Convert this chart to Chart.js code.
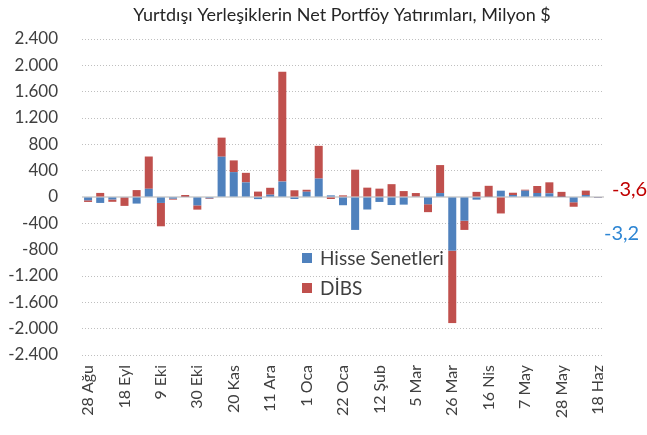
<!DOCTYPE html>
<html>
<head>
<meta charset="utf-8">
<script src="https://cdn.jsdelivr.net/npm/chart.js@4"></script>
<style>
  html, body { margin: 0; padding: 0; background: #fff; }
  #wrap { width: 647px; height: 435px; }
</style>
</head>
<body>
<div id="wrap"><canvas id="chart"></canvas></div>
<script>
const weeks = ['28 Ağu', '4 Eyl', '11 Eyl', '18 Eyl', '25 Eyl', '2 Eki', '9 Eki', '16 Eki', '23 Eki', '30 Eki',
  '6 Kas', '13 Kas', '20 Kas', '27 Kas', '4 Ara', '11 Ara', '18 Ara', '25 Ara', '1 Oca', '8 Oca', '15 Oca',
  '22 Oca', '29 Oca', '5 Şub', '12 Şub', '19 Şub', '26 Şub', '5 Mar', '12 Mar', '19 Mar', '26 Mar', '2 Nis',
  '9 Nis', '16 Nis', '23 Nis', '30 Nis', '7 May', '14 May', '21 May', '28 May', '4 Haz', '11 Haz', '18 Haz']

const hisse = [-50, -90, -38, -10, -100, 125, -90, -25, 5, -127,
  -20, 612, 378, 222, -32, 35, 234, -30, 80, 280, 25,
  -125, -500, -190, -75, -122, -116, 10, -110, 60, -815, -360,
  -40, 5, 96, 30, 96, 61, 56, 3, -80, 30, -3.2]
const dibs = [-25, 62, -35, -125, 105, 490, -355, -15, 25, -65,
  -10, 290, 178, 145, 82, 105, 1670, 102, 30, 497, -30,
  25, 415, 142, 127, 195, 90, 50, -120, 425, -1100, -140,
  78, 165, -250, 35, 15, 106, 167, 75, -68, 67, -3.6]

const yTicks = [-2400, -2000, -1600, -1200, -800, -400, 0, 400, 800, 1200, 1600, 2000, 2400]

const titleText = 'Yurtdışı Yerleşiklerin Net Portföy Yatırımları, Milyon $'
const fontName = 'Lato'

function fmt(v) {
  let s = Math.abs(v).toString().replace(/\B(?=(\d{3})+(?!\d))/g, '.')
  return (v < 0 ? '-' : '') + s
}

// title, zero line, legend and last-value labels
const extras = {
  id: 'extras',
  beforeDatasetsDraw(chart) {
    const ctx = chart.ctx
    const a = chart.chartArea
    const y0 = chart.scales.y.getPixelForValue(0)
    ctx.save()
    ctx.strokeStyle = '#d9d9d9'
    ctx.lineWidth = 2
    ctx.beginPath()
    ctx.moveTo(a.left, y0)
    ctx.lineTo(a.right, y0)
    ctx.stroke()
    ctx.restore()
  },
  afterDraw(chart) {
    const ctx = chart.ctx
    ctx.save()
    ctx.fillStyle = '#262626'
    ctx.font = '18px ' + fontName
    ctx.textAlign = 'center'
    ctx.textBaseline = 'middle'
    ctx.fillText(titleText, 342, 15)

    // legend
    const ds = chart.data.datasets
    ctx.textAlign = 'left'
    ctx.font = '19px ' + fontName
    ds.forEach(function (d, i) {
      const yy = 258 + i * 30
      ctx.fillStyle = d.backgroundColor
      ctx.fillRect(302, yy - 5, 10, 10)
      ctx.fillStyle = '#404040'
      ctx.fillText(d.label, 320, yy + 1)
    })

    // last values
    const last = weeks.length - 1
    ctx.font = '20px ' + fontName
    ctx.fillStyle = '#c00000'
    ctx.fillText(String(dibs[last]).replace('.', ','), 612, 190)
    ctx.fillStyle = '#2e86d4'
    ctx.fillText(String(hisse[last]).replace('.', ','), 604, 234)
    ctx.restore()
  }
}

new Chart(document.getElementById('chart'), {
  type: 'bar',
  data: {
    labels: weeks,
    datasets: [
      { label: 'Hisse Senetleri', data: hisse, backgroundColor: '#4f81bd' },
      { label: 'DİBS', data: dibs, backgroundColor: '#c0504d' }
    ]
  },
  options: {
    responsive: true,
    maintainAspectRatio: false,
    animation: false,
    datasets: { bar: { barPercentage: 0.66, categoryPercentage: 1 } },
    layout: { padding: { top: 39, right: 43, left: 0, bottom: 0 } },
    plugins: {
      legend: { display: false },
      title: { display: false },
      tooltip: { enabled: false }
    },
    scales: {
      x: {
        stacked: true,
        grid: { display: false, drawTicks: false },
        border: { display: false },
        ticks: {
          autoSkip: false,
          maxRotation: 90,
          minRotation: 90,
          padding: 10,
          color: '#404040',
          font: { family: fontName, size: 16 },
          callback: function (v, i) { return i % 3 === 0 ? weeks[i] : '' }
        },
        afterFit: function (s) { s.height = 80 }
      },
      y: {
        stacked: true,
        min: -2400,
        max: 2400,
        afterBuildTicks: function (s) { s.ticks = yTicks.map(function (v) { return { value: v } }) },
        grid: {
          drawTicks: false,
          color: function (c) { return c.tick && c.tick.value === 0 ? 'rgba(0,0,0,0)' : '#bfbfbf' },
          lineWidth: 1
        },
        border: { display: false, dash: [1, 2] },
        ticks: {
          padding: 24,
          color: '#404040',
          font: { family: fontName, size: 17 },
          callback: function (v) { return fmt(v) }
        },
        afterFit: function (s) { s.width = 82 }
      }
    }
  },
  plugins: [extras]
})
</script>
</body>
</html>
